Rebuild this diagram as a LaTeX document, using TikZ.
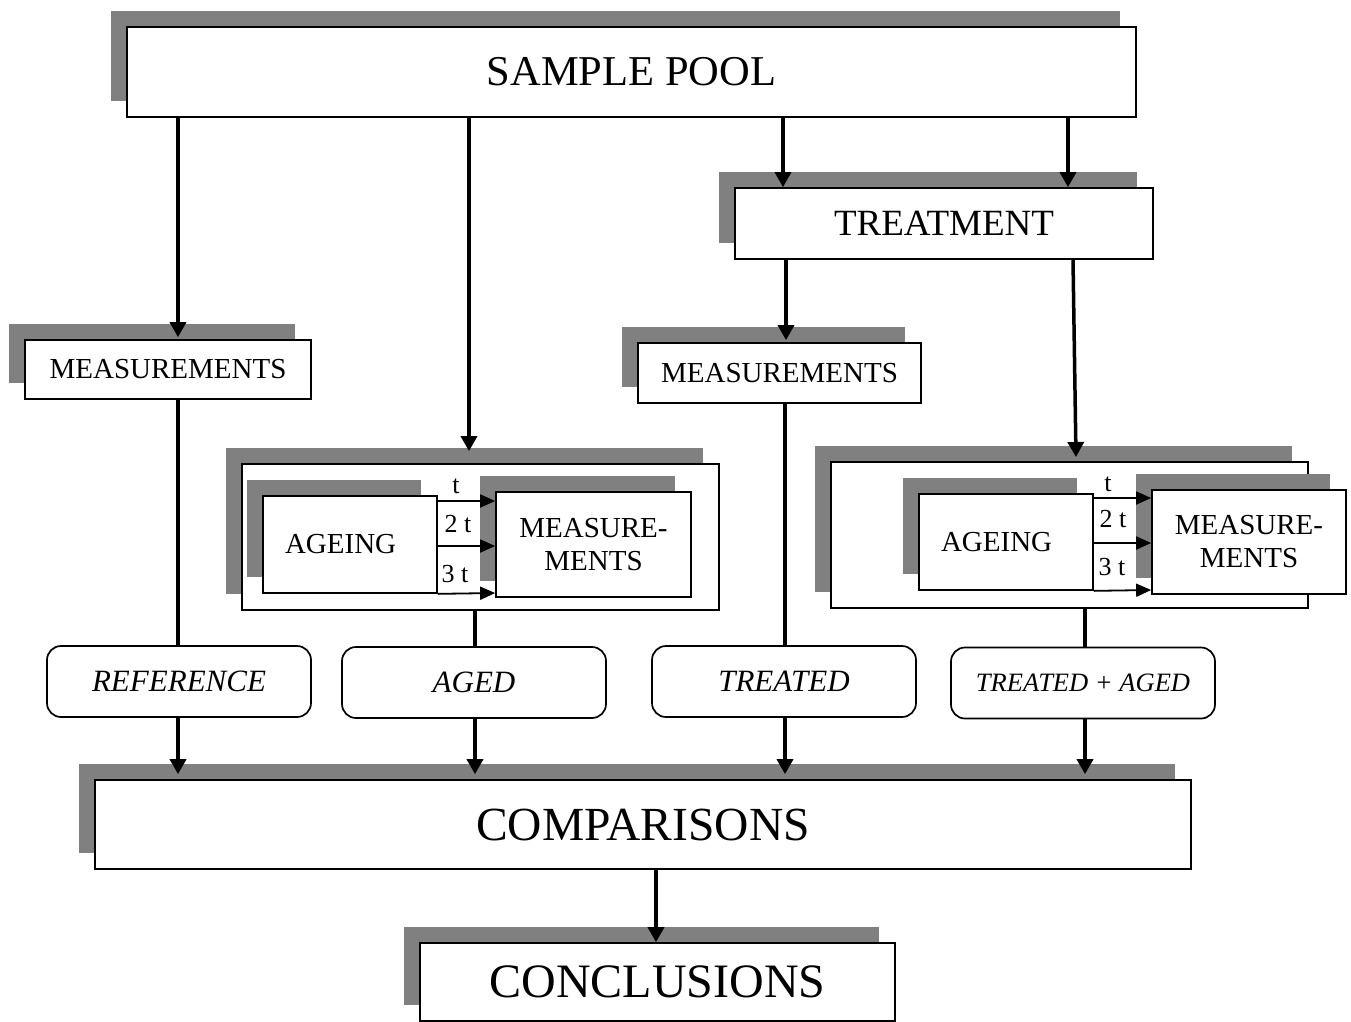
\documentclass[tikz,border=0pt]{standalone}
\usepackage{fontspec}
\setmainfont{Liberation Serif}
\usetikzlibrary{shadows,arrows.meta}
\definecolor{shgray}{RGB}{128,128,128}
\tikzset{
 box/.style={draw=black, line width=1.7pt, fill=white, inner sep=0pt,
   general shadow={draw=none, fill=shgray, shadow xshift=-16pt, shadow yshift=16pt}},
 rbox/.style={draw=black, line width=1.7pt, rounded corners=14pt, fill=white, inner sep=0pt,
   minimum width=264pt, minimum height=71pt, font=\fontsize{31}{36}\selectfont\itshape},
 arr/.style={line width=3.5pt, -{Triangle[length=15pt,width=16pt]}},
 ln/.style={line width=3.5pt},
 tarr/.style={line width=1.8pt, -{Triangle[length=15pt,width=13pt]}},
 mfont/.style={font=\fontsize{29}{33}\selectfont},
 tlab/.style={inner sep=0pt, font=\fontsize{26}{30}\selectfont},
}
\begin{document}
\begin{tikzpicture}[x=1pt,y=-1pt]
\useasboundingbox (0,0) rectangle (1351,1021);
% main boxes
\node[box, minimum width=1009pt, minimum height=90pt, font=\fontsize{42.5}{48}\selectfont] (sp) at (631.5,72) {SAMPLE POOL};
\node[box, minimum width=418pt, minimum height=71pt, font=\fontsize{37}{42}\selectfont] (tr) at (944,223.5) {TREATMENT};
\node[box, mfont, minimum width=286pt, minimum height=59pt] (measL) at (168,369.5) {MEASUREMENTS};
\node[box, mfont, minimum width=283pt, minimum height=60pt] (measM) at (779.5,373) {MEASUREMENTS};
% aged group
\node[box, minimum width=477pt, minimum height=146pt] (outA) at (480.5,537) {};
\node[box, mfont, minimum height=97pt, inner xsep=22pt, text width=130pt, align=left] (ageA) at (350,544.5) {AGEING};
\node[box, mfont, minimum width=195pt, minimum height=105pt, align=center] (mA) at (593.5,544.5) {MEASURE-\\MENTS};
% treated+aged group
\node[box, minimum width=477pt, minimum height=146pt] (outB) at (1069.5,535) {};
\node[box, mfont, minimum height=96pt, inner xsep=22pt, text width=130pt, align=left] (ageB) at (1006,542) {AGEING};
\node[box, mfont, minimum width=194pt, minimum height=104pt, align=center] (mB) at (1249,542) {MEASURE-\\MENTS};
% result boxes
\node[rbox] (ref) at (179,681.5) {REFERENCE};
\node[rbox] (aged) at (474,682.5) {AGED};
\node[rbox] (trd) at (784,681.5) {TREATED};
\node[rbox, font=\fontsize{26.5}{30}\selectfont\itshape] (ta) at (1083,683) {TREATED + AGED};
\node[box, minimum width=1096pt, minimum height=89pt, font=\fontsize{47.5}{54}\selectfont] (cmp) at (643,824.5) {COMPARISONS};
\node[box, minimum width=475pt, minimum height=78pt, font=\fontsize{48}{54}\selectfont] (con) at (657.5,982) {CONCLUSIONS};
% time labels
\node[tlab] (tA1) at (456,486) {t};
\node[tlab] (tA2) at (458,524) {2 t};
\node[tlab] (tA3) at (455,574) {3 t};
\node[tlab] (tB1) at (1108,484) {t};
\node[tlab] (tB2) at (1113,519) {2 t};
\node[tlab] (tB3) at (1112,567) {3 t};
% time arrows
\draw[tarr] (ageA.east |- 0,501) -- (mA.west |- 0,501);
\draw[tarr] (ageA.east |- 0,546) -- (mA.west |- 0,546);
\draw[tarr] (ageA.south east) -- (mA.west |- 0,593);
\draw[tarr] (ageB.east |- 0,498) -- (mB.west |- 0,498);
\draw[tarr] (ageB.east |- 0,543) -- (mB.west |- 0,543);
\draw[tarr] (ageB.south east) -- (mB.west |- 0,590);
% connectors from sample pool
\draw[arr, shorten >=2pt] (178,0 |- sp.south) -- (178,0 |- measL.north);
\draw[arr, shorten >=12pt] (469,0 |- sp.south) -- (469,0 |- outA.north);
\draw[arr] (783,0 |- sp.south) -- (783,0 |- tr.north);
\draw[arr] (1068,0 |- sp.south) -- (1068,0 |- tr.north);
\draw[arr, shorten >=2pt] (786,0 |- tr.south) -- (786,0 |- measM.north);
\coordinate (bEnd) at (1076,457);
\draw[arr] (1073,0 |- tr.south) -- (bEnd);
% lines to result boxes
\draw[ln] (178,0 |- measL.south) -- (178,0 |- ref.north);
\draw[ln] (475,0 |- outA.south) -- (475,0 |- aged.north);
\draw[ln] (785,0 |- measM.south) -- (785,0 |- trd.north);
\draw[ln] (1085,0 |- outB.south) -- (1085,0 |- ta.north);
% arrows to comparisons
\draw[arr, shorten >=5pt] (178,0 |- ref.south) -- (178,0 |- cmp.north);
\draw[arr, shorten >=5pt] (475,0 |- aged.south) -- (475,0 |- cmp.north);
\draw[arr, shorten >=5pt] (785,0 |- trd.south) -- (785,0 |- cmp.north);
\draw[arr, shorten >=5pt] (1085,0 |- ta.south) -- (1085,0 |- cmp.north);
\draw[arr] (656,0 |- cmp.south) -- (656,0 |- con.north);
\end{tikzpicture}
\end{document}
